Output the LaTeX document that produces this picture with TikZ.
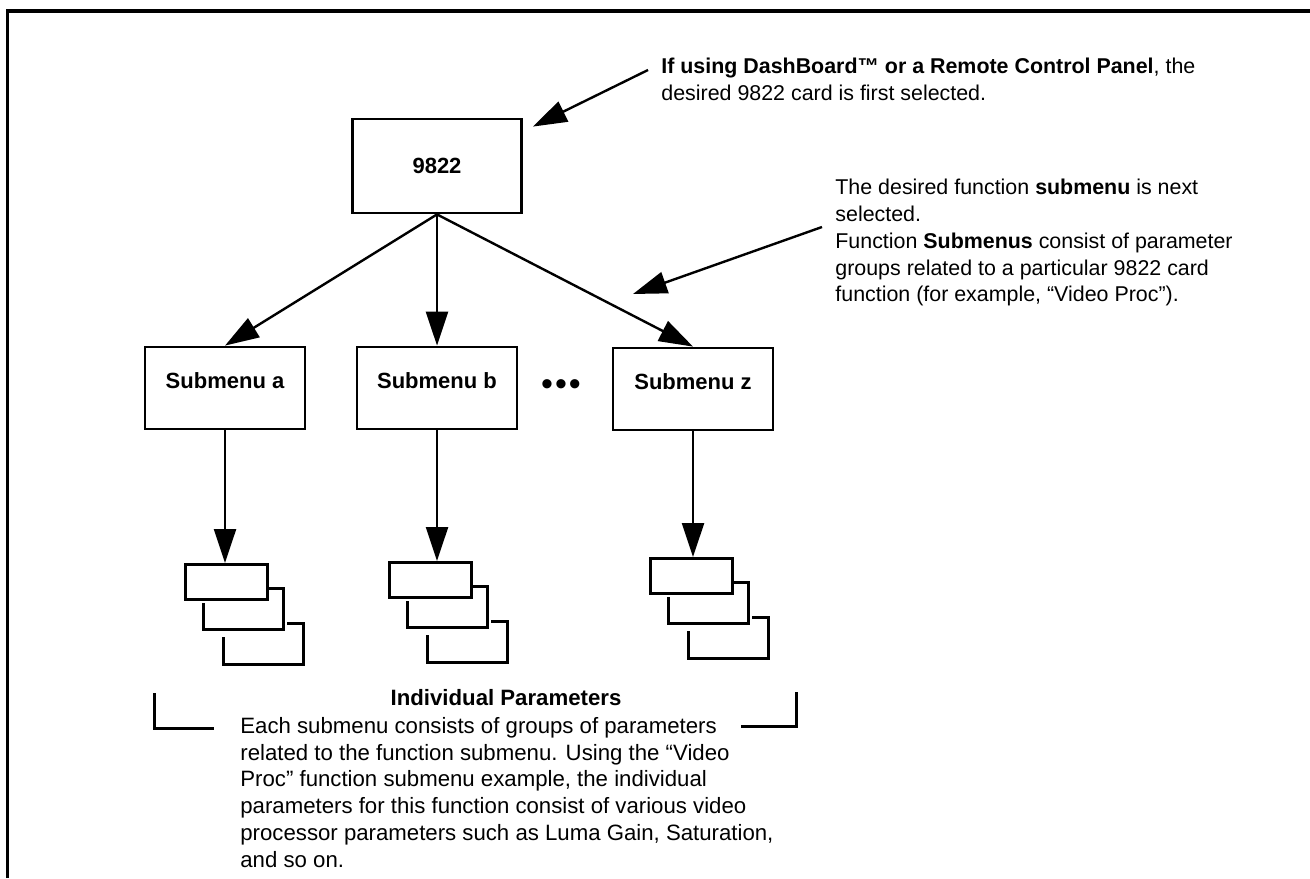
\documentclass[tikz,border=0pt]{standalone}
\usepackage{fontspec}
\setmainfont{Liberation Sans}
\usetikzlibrary{arrows.meta}
\tikzset{cardbox/.style={draw, line width=1.4pt, minimum width=84.5pt, minimum height=47pt,
      font=\fontsize{11}{13.35}\selectfont\bfseries},
    menubox/.style={draw, line width=1.4pt, minimum width=80pt, minimum height=41pt, inner sep=0pt,
      text height=6pt, text depth=6pt, font=\fontsize{11}{13.35}\selectfont\bfseries},
    parmbox/.style={draw, line width=1.5pt, minimum width=41pt, minimum height=17.5pt, inner sep=0pt},
    stackline/.style={line width=1.5pt},
    link/.style={line width=1.2pt, -{Triangle[length=17pt,width=11pt]}},
    note/.style={font=\fontsize{10.7}{13.35}\selectfont, align=left, inner sep=0pt, anchor=north west},
    }
\begin{document}
\begin{tikzpicture}[x=0.5pt,y=-0.5pt]
\useasboundingbox (0,0) rectangle (1310,878);
\draw[line width=1.6pt] (7.5,878) -- (7.5,11) -- (1310,11);
% card and its submenus
\node[cardbox] (card) at (437,166) {9822};
\node[menubox] (suba) at (225,388) {Submenu a};
\node[menubox] (subb) at (437,388) {Submenu b};
\node[menubox] (subz) at (693,389) {Submenu z};
\node[font=\fontsize{17}{17}\selectfont] (dots) at (561,388) {•\hspace{1pt}•\hspace{1pt}•};
\foreach \s in {suba,subb,subz}
  \draw[link] (card.south) -- (\s.north);
% parameter stacks
\foreach \s/\x/\y in {a/184/563, b/388/561, z/649/557} {
  \begin{scope}[shift={(\x,\y)}]
    \node[parmbox, anchor=north west] (par\s) at (0,0) {};
    \draw[stackline] (84,25) -| (99,66) -| (19,40);
    \draw[stackline] (103,60) -| (119,101) -| (39,74);
  \end{scope}
  \draw[link] (sub\s.south) -- (sub\s.south |- par\s.north);
}
% notes
\node[note] (selnote) at (661,58) {\textbf{If using DashBoard™ or a Remote Control Panel}, the\\
  desired 9822 card is first selected.};
\node[note] (subnote) at (835,179) {The desired function \textbf{submenu} is next\\
  selected.\\
  Function \textbf{Submenus} consist of parameter\\
  groups related to a particular 9822 card\\
  function (for example, “Video Proc”).};
\draw[link] ([shift={(-13,12)}]selnote.north west) -- ([shift={(10,9)}]card.north east);
\coordinate (aim) at (633,294);
\draw[link] ([shift={(-13,48)}]subnote.north west) -- (aim);
\node[font=\fontsize{11.1}{13.35}\selectfont\bfseries] (parhead) at (506,698) {Individual Parameters};
\node[note, font=\fontsize{11.1}{13.35}\selectfont] (partext) at (240,717) {Each submenu consists of groups of parameters\\
  related to the function submenu. Using the “Video\\
  Proc” function submenu example, the individual\\
  parameters for this function consist of various video\\
  processor parameters such as Luma Gain, Saturation,\\
  and so on.};
\draw[stackline] (154,693) -- (154,728) -- (214,728);
\draw[stackline] (741,726) -- (796,726) -- (796,692);
\end{tikzpicture}
\end{document}
